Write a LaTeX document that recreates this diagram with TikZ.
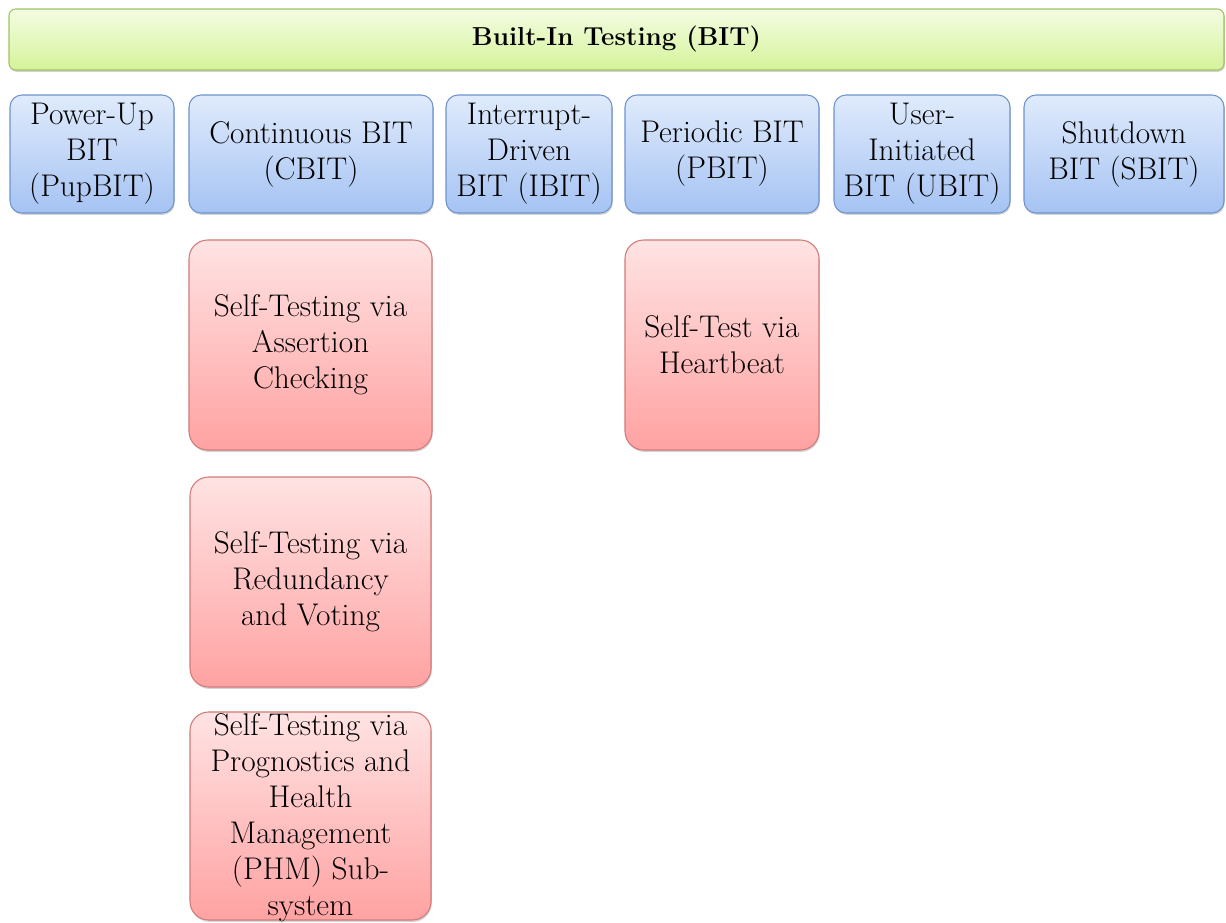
\documentclass[tikz,border=0pt]{standalone}
\usetikzlibrary{shadows}
\definecolor{grTop}{HTML}{F4FCE3}
\definecolor{grBot}{HTML}{D5F399}
\definecolor{grLine}{HTML}{9CC463}
\definecolor{blTop}{HTML}{E0EBFC}
\definecolor{blBot}{HTML}{A5C3F3}
\definecolor{blLine}{HTML}{6E93CC}
\definecolor{rdTop}{HTML}{FFE3E3}
\definecolor{rdBot}{HTML}{FFA2A2}
\definecolor{rdLine}{HTML}{D27A7A}
\tikzset{
  box/.style={draw, line width=0.8pt, inner sep=0pt, align=center,
    font=\fontsize{23.5}{27}\selectfont,
    drop shadow={shadow xshift=0.6pt, shadow yshift=-1.4pt, opacity=0.35}},
  wd/.style={minimum width=#1*0.75pt},
  ht/.style={minimum height=#1*0.75pt},
  titlebox/.style={box, draw=grLine, top color=grTop, bottom color=grBot,
    rounded corners=5pt, font=\fontsize{19.5}{23}\selectfont\bfseries},
  kindbox/.style={box, draw=blLine, top color=blTop, bottom color=blBot,
    rounded corners=9pt, ht=118},
  methodbox/.style={box, draw=rdLine, top color=rdTop, bottom color=rdBot,
    rounded corners=14pt, ht=210},
  methodtext/.style={inner sep=0pt, align=center, font=\fontsize{23.5}{27}\selectfont}
}
\begin{document}
\begin{tikzpicture}[x=0.75pt, y=-0.75pt]
  \useasboundingbox (0,0) rectangle (1226,922);

  % root
  \node[titlebox, wd=1215, ht=61] (bit) at (616.5,39.5) {Built-In Testing (BIT)};

  % kinds of BIT
  \node[kindbox, wd=164] (pup)  at (92,154)   {Power-Up\\BIT\\(PupBIT)};
  \node[kindbox, wd=244] (cbit) at (311,154)  {Continuous BIT\\(CBIT)};
  \node[kindbox, wd=166] (ibit) at (529,154)  {Interrupt-\\Driven\\BIT (IBIT)};
  \node[kindbox, wd=194] (pbit) at (722,154)  {Periodic BIT\\(PBIT)};
  \node[kindbox, wd=176] (ubit) at (922,154)  {User-\\Initiated\\BIT (UBIT)};
  \node[kindbox, wd=200] (sbit) at (1124,154) {Shutdown\\BIT (SBIT)};

  % self-testing methods
  \node[methodbox, wd=243] (assert) at (310.5,345) {Self-Testing via\\Assertion\\Checking};
  \node[methodbox, wd=194] (heart)  at (722,345)   {Self-Test via\\Heartbeat};
  \node[methodbox, wd=241] (vote)   at (310.5,582) {Self-Testing via\\Redundancy\\and Voting};
  \node[methodbox, wd=241, ht=208] (phm) at (310.5,816) {};
  \node[methodtext] (phmtext) at (310.5,818)
    {Self-Testing via\\Prognostics and\\Health\\Management\\(PHM) Sub-\\system};
\end{tikzpicture}
\end{document}
